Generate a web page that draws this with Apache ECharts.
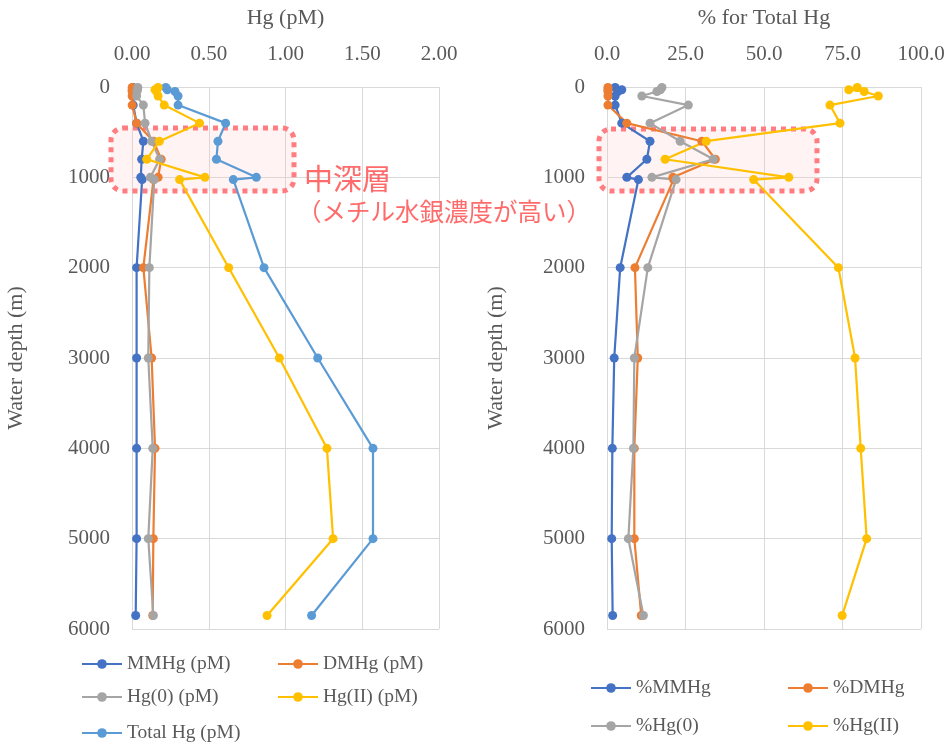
<!DOCTYPE html>
<html>
<head>
<meta charset="utf-8">
<script src="https://cdn.jsdelivr.net/npm/echarts@6/dist/echarts.min.js"></script>
<style>html,body{margin:0;padding:0;background:#fff}#c{width:950px;height:744px}</style>
</head>
<body>
<div id="c"></div>
<script>
// Depths (m)
var depths = [5, 30, 50, 100, 200, 400, 600, 800, 1000, 1025, 2000, 3000, 4000, 5000, 5850];
// Left panel: concentrations (pM)
var mmhg  = [0.008, 0.010, 0.006, 0.008, 0.008, 0.030, 0.074, 0.063, 0.057, 0.066, 0.030, 0.030, 0.030, 0.030, 0.024];
var dmhg  = [0.001, 0.001, 0.001, 0.001, 0.001, 0.030, 0.140, 0.190, 0.170, 0.140, 0.074, 0.128, 0.150, 0.139, 0.135];
var hg0   = [0.038, 0.036, 0.032, 0.030, 0.074, 0.085, 0.128, 0.180, 0.120, 0.145, 0.113, 0.106, 0.135, 0.106, 0.139];
var hg2   = [0.17, 0.15, 0.16, 0.17, 0.21, 0.44, 0.178, 0.096, 0.475, 0.31, 0.63, 0.96, 1.27, 1.31, 0.88];
var total = [0.22, 0.23, 0.28, 0.30, 0.30, 0.61, 0.56, 0.55, 0.81, 0.66, 0.86, 1.21, 1.57, 1.57, 1.17];
// Right panel: % of total Hg
var pMM  = [2.6, 4.7, 3.5, 2.6, 2.6, 4.7, 13.7, 12.7, 6.3, 10.0, 4.2, 2.3, 1.7, 1.5, 1.8];
var pDM  = [0.3, 0.3, 0.3, 0.3, 0.3, 6.3, 30.2, 34.5, 21.0, 21.2, 8.9, 9.8, 8.7, 8.7, 10.9];
var pHg0 = [17.5, 17.0, 15.9, 11.1, 25.9, 13.7, 23.3, 33.9, 14.3, 22.0, 13.0, 8.7, 8.4, 6.8, 11.6];
var pHg2 = [79.7, 77.0, 81.9, 86.4, 71.0, 74.2, 31.6, 18.5, 57.9, 46.7, 73.7, 79.0, 80.8, 82.7, 74.9];

var leftNames = ['MMHg (pM)', 'DMHg (pM)', 'Hg(0) (pM)', 'Hg(II) (pM)', 'Total Hg (pM)'];
var rightNames = ['%MMHg', '%DMHg', '%Hg(0)', '%Hg(II)'];
var leftVals = [mmhg, dmhg, hg0, hg2, total];
var rightVals = [pMM, pDM, pHg0, pHg2];
var leftColors = ['#4472C4', '#ED7D31', '#A5A5A5', '#FFC000', '#5B9BD5'];
var rightColors = ['#4472C4', '#ED7D31', '#A5A5A5', '#FFC000'];

var serif = 'Liberation Serif';
var txt = '#595959';

function pairs(vals) { return vals.map(function (v, i) { return [v, depths[i]]; }); }

var series = [];
leftNames.forEach(function (n, k) {
  series.push({ name: n, type: 'line', xAxisIndex: 0, yAxisIndex: 0, data: pairs(leftVals[k]),
    symbol: 'circle', symbolSize: 9, color: leftColors[k], lineStyle: { width: 2.2 }, z: 3 + (k === 3 ? 1 : 0) });
});
rightNames.forEach(function (n, k) {
  series.push({ name: n, type: 'line', xAxisIndex: 1, yAxisIndex: 1, data: pairs(rightVals[k]),
    symbol: 'circle', symbolSize: 9, color: rightColors[k], lineStyle: { width: 2.2 }, z: 3 });
});

function xAxis(grid, max, interval, dec, name) {
  return { type: 'value', gridIndex: grid, position: 'top', min: 0, max: max, interval: interval,
    name: name, nameLocation: 'middle', nameGap: 58,
    nameTextStyle: { fontFamily: serif, fontSize: 22, color: txt },
    axisLine: { show: false }, axisTick: { show: false },
    axisLabel: { margin: 22, fontFamily: serif, fontSize: 21, color: txt, formatter: function (v) { return v.toFixed(dec); } },
    splitLine: { lineStyle: { color: '#D9D9D9', width: 1 } } };
}
function yAxis(grid, gap) {
  return { type: 'value', gridIndex: grid, inverse: true, min: 0, max: 6000, interval: 1000,
    name: 'Water depth (m)', nameLocation: 'middle', nameGap: gap,
    nameTextStyle: { fontFamily: serif, fontSize: 22, color: txt },
    axisLine: { show: true, lineStyle: { color: '#D9D9D9' } }, axisTick: { show: false },
    axisLabel: { margin: 22, fontFamily: serif, fontSize: 21, color: txt, formatter: function (v) { return String(v); } },
    splitLine: { lineStyle: { color: '#D9D9D9', width: 1 } } };
}

var legends = [];
function leg(name, left, cy) {
  legends.push({ data: [name], left: left, top: cy - 6, padding: 0, itemWidth: 40, itemHeight: 12, itemGap: 4,
    textStyle: { fontFamily: serif, fontSize: 19.5, color: txt, padding: [0, 0, 0, 0] } });
}
leg('MMHg (pM)', 81, 660); leg('DMHg (pM)', 277, 660);
leg('Hg(0) (pM)', 81, 693); leg('Hg(II) (pM)', 277, 693);
leg('Total Hg (pM)', 81, 729);
leg('%MMHg', 590, 684); leg('%DMHg', 787, 684);
leg('%Hg(0)', 590, 722); leg('%Hg(II)', 787, 722);

var boxStyle = { fill: 'rgba(255,190,190,0.18)', stroke: '#FF7C80', lineWidth: 5, lineDash: [5, 5] };

var option = {
  backgroundColor: '#fff',
  animation: false,
  grid: [
    { left: 132, right: 511, top: 87, bottom: 115, containLabel: false, outerBoundsMode: 'none' },
    { left: 607, right: 29, top: 87, bottom: 115, containLabel: false, outerBoundsMode: 'none' }
  ],
  xAxis: [xAxis(0, 2, 0.5, 2, 'Hg (pM)'), xAxis(1, 100, 25, 1, '% for Total Hg')],
  yAxis: [yAxis(0, 105), yAxis(1, 100)],
  legend: legends,
  series: series,
  graphic: [
    { type: 'rect', z: 1, shape: { x: 111, y: 128, width: 183, height: 63, r: 12 }, style: boxStyle },
    { type: 'rect', z: 1, shape: { x: 599, y: 129, width: 218, height: 62, r: 12 }, style: boxStyle },
    { type: 'text', z: 10, left: 304, top: 164, style: { text: '中深層', fontFamily: 'Noto Sans CJK JP', fontSize: 29, fill: '#FF6B6B' } },
    { type: 'text', z: 10, left: 297, top: 199, style: { text: '（メチル水銀濃度が高い）', fontFamily: 'Noto Sans CJK JP', fontSize: 24.5, fill: '#FF6B6B' } }
  ]
};
var chart = echarts.init(document.getElementById('c'), null, { renderer: 'canvas' });
chart.setOption(option);
</script>
</body>
</html>
